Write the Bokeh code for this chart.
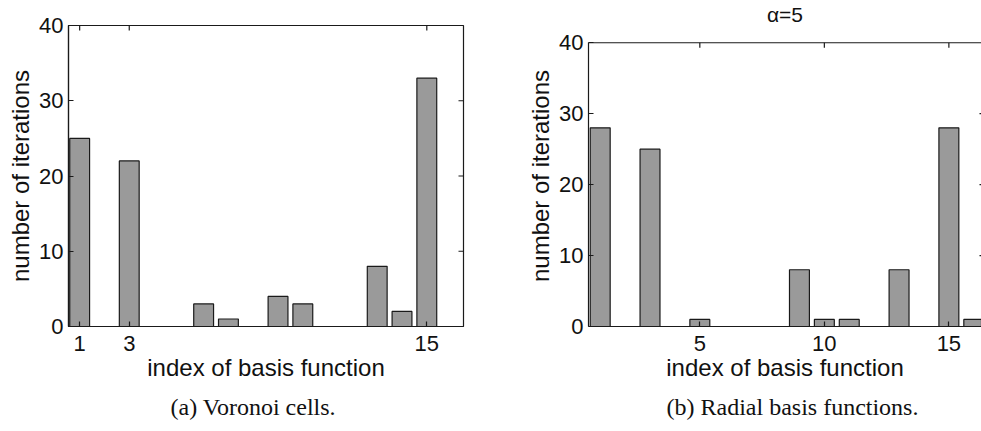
import math
from bokeh.plotting import figure
from bokeh.models import ColumnDataSource, FixedTicker, Range1d, Span, Title
from bokeh.layouts import row
from bokeh.embed import file_html
from bokeh.resources import INLINE

# ---- data ----
basis_index = list(range(1, 17))
voronoi_iterations = [25, 0, 22, 0, 0, 3, 1, 0, 4, 3, 0, 0, 8, 2, 33, 0]
rbf_iterations = [28, 0, 25, 0, 1, 0, 0, 0, 8, 1, 1, 0, 8, 0, 28, 1]
y_tick_values = [0, 10, 20, 30, 40]
voronoi_x_ticks = [1, 3, 15]
rbf_x_ticks = [5, 10, 15]
x_label = "index of basis function"
y_label = "number of iterations"
rbf_title = "α=5"
caption_a = "(a) Voronoi cells."
caption_b = "(b) Radial basis functions."

SANS = "Liberation Sans"
SERIF = "Liberation Serif"
BAR_FILL = "#9a9a9a"
INK = "#1a1a1a"
Y_MAX = 40
TICK_PX = 5


def style_axis(ax):
    ax.major_tick_in = TICK_PX
    ax.major_tick_out = 0
    ax.minor_tick_line_color = None
    ax.major_tick_line_color = INK
    ax.major_tick_line_width = 1.2
    ax.axis_line_color = INK
    ax.axis_line_width = 1.2
    ax.major_label_text_font = SANS
    ax.major_label_text_font_size = "22px"
    ax.major_label_text_color = "#111111"
    ax.axis_label_text_font = SANS
    ax.axis_label_text_font_size = "24px"
    ax.axis_label_text_font_style = "normal"
    ax.axis_label_text_color = "#111111"


def make_panel(values, x_ticks, width, x_start, x_end, y_end, min_left, min_right,
               frame_h, caption, caption_offset, full_box, right_tick_len,
               title_text=None):
    src = ColumnDataSource(dict(x=basis_index, top=values))
    p = figure(width=width, height=431, output_backend="svg", toolbar_location=None,
               x_range=Range1d(x_start, x_end), y_range=Range1d(0, y_end),
               min_border_left=min_left, min_border_top=25,
               min_border_right=min_right, min_border_bottom=105,
               title=None)
    p.vbar(x="x", top="top", bottom=0, width=0.8, source=src,
           fill_color=BAR_FILL, line_color=INK, line_width=1.2)
    p.xgrid.visible = False
    p.ygrid.visible = False
    p.background_fill_color = "white"
    p.border_fill_color = "white"

    xa = p.xaxis[0]
    ya = p.yaxis[0]
    style_axis(xa)
    style_axis(ya)
    xa.ticker = FixedTicker(ticks=x_ticks)
    ya.ticker = FixedTicker(ticks=y_tick_values)
    ya.bounds = (0, Y_MAX)
    xa.major_label_standoff = 9
    ya.major_label_standoff = 5
    xa.axis_label = x_label
    ya.axis_label = y_label
    xa.axis_label_standoff = 0
    ya.axis_label_standoff = 2

    px_per_unit = frame_h / y_end
    if full_box:
        p.outline_line_color = INK
        p.outline_line_width = 1.2
        # mirrored inward ticks on the top edge (half of each dash clipped by the frame)
        p.scatter(x=x_ticks, y=[Y_MAX] * len(x_ticks), marker="dash", size=2 * TICK_PX,
                  angle=math.pi / 2, line_color=INK, line_width=1.2)
    else:
        p.outline_line_color = None
        p.add_layout(Span(location=Y_MAX, dimension="width", line_color=INK,
                          line_width=1.2))
        p.segment(x0=x_ticks, x1=x_ticks, y0=[Y_MAX] * len(x_ticks),
                  y1=[Y_MAX - TICK_PX / px_per_unit] * len(x_ticks),
                  line_color=INK, line_width=1.2)

    inner_y = y_tick_values[1:-1]
    p.scatter(x=[x_end] * len(inner_y), y=inner_y, marker="dash",
              size=2 * right_tick_len, line_color=INK, line_width=1.2)

    if title_text:
        p.add_layout(Title(text=title_text, align="center", text_font=SANS,
                           text_font_size="21px", text_font_style="normal",
                           text_color="#111111", standoff=0), "above")

    p.add_layout(Title(text=caption, align="left", offset=caption_offset,
                       text_font=SERIF, text_font_size="24px",
                       text_font_style="normal", text_color="#111111",
                       standoff=17), "below")
    return p


left = make_panel(voronoi_iterations, voronoi_x_ticks, width=490,
                  x_start=0.55, x_end=16.48, y_end=Y_MAX,
                  min_left=68, min_right=27, frame_h=301,
                  caption=caption_a, caption_offset=102, full_box=True,
                  right_tick_len=TICK_PX)
right = make_panel(rbf_iterations, rbf_x_ticks, width=491,
                   x_start=0.53, x_end=16.31, y_end=42.43,
                   min_left=98, min_right=0, frame_h=301,
                   caption=caption_b, caption_offset=78, full_box=False,
                   right_tick_len=2, title_text=rbf_title)

layout = row(left, right, spacing=0)
open("out.html", "w").write(file_html(layout, INLINE))
